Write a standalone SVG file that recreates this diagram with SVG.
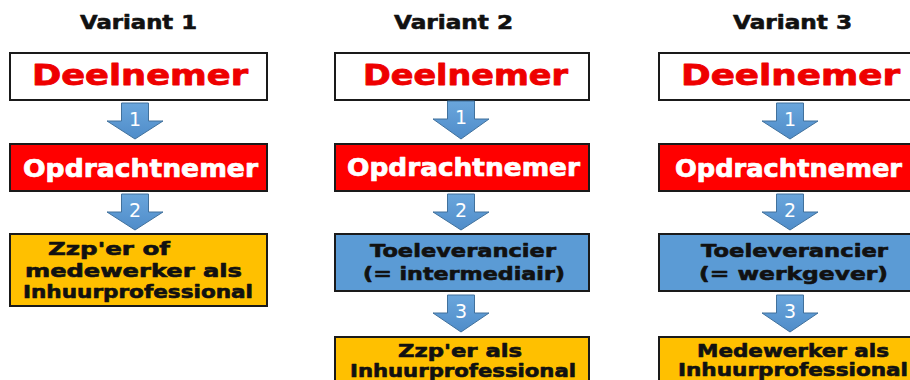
<svg xmlns="http://www.w3.org/2000/svg" width="910" height="380" viewBox="0 0 910 380">
<defs>
<linearGradient id="ag" x1="0" y1="0" x2="0" y2="1">
<stop offset="0" stop-color="#6aa6dc"/>
<stop offset="1" stop-color="#4f8cc9"/>
</linearGradient>
<style>
.t{font-family:"DejaVu Sans","Verdana",sans-serif;font-weight:bold;text-anchor:middle;stroke-linejoin:round}
.title{font-size:19px;fill:#111;stroke:#111;stroke-width:0.6}
.box{stroke:#1a1a1a;stroke-width:2}
.white{fill:#ffffff}
.red{fill:#ff0000}
.yel{fill:#ffc000}
.blue{fill:#5b9bd5}
.dn{font-size:27.5px;fill:#ee0000;stroke:#ee0000;stroke-width:0.8}
.op{font-size:24px;fill:#ffffff;stroke:#ffffff;stroke-width:0.7}
.bt{font-size:17.5px;fill:#111;stroke:#111;stroke-width:0.6}
.arr{fill:url(#ag);stroke:#41719c;stroke-width:1}
.num{font-family:"DejaVu Sans",sans-serif;font-size:19px;fill:#ffffff;text-anchor:middle}
</style>
</defs>
<rect width="910" height="380" fill="#ffffff"/>

<g id="titles">
<text class="t title" x="138.5" y="29" textLength="117" lengthAdjust="spacingAndGlyphs">Variant 1</text>
<text class="t title" x="453.5" y="29" textLength="119" lengthAdjust="spacingAndGlyphs">Variant 2</text>
<text class="t title" x="792.5" y="29" textLength="119" lengthAdjust="spacingAndGlyphs">Variant 3</text>
</g>

<g id="v1-deelnemer">
<rect class="box white" x="10" y="53" width="257" height="47"/>
<text class="t dn" x="140" y="85" textLength="216" lengthAdjust="spacingAndGlyphs">Deelnemer</text>
</g>
<g id="v1-opdrachtnemer">
<rect class="box red" x="10" y="144" width="257" height="47"/>
<text class="t op" x="140.5" y="177" textLength="235" lengthAdjust="spacingAndGlyphs">Opdrachtnemer</text>
</g>
<g id="v1-zzp">
<rect class="box yel" x="10" y="234" width="257" height="72"/>
<text class="t bt" x="109" y="255" textLength="122" lengthAdjust="spacingAndGlyphs">Zzp'er of</text>
<text class="t bt" x="133.5" y="277" textLength="217" lengthAdjust="spacingAndGlyphs">medewerker als</text>
<text class="t bt" x="138" y="298" textLength="230" lengthAdjust="spacingAndGlyphs">Inhuurprofessional</text>
</g>

<g id="v2-deelnemer">
<rect class="box white" x="335" y="53" width="254" height="47"/>
<text class="t dn" x="465.5" y="85" textLength="205" lengthAdjust="spacingAndGlyphs">Deelnemer</text>
</g>
<g id="v2-opdrachtnemer">
<rect class="box red" x="335" y="144" width="254" height="47"/>
<text class="t op" x="463.5" y="176" textLength="233" lengthAdjust="spacingAndGlyphs">Opdrachtnemer</text>
</g>
<g id="v2-toeleverancier">
<rect class="box blue" x="335" y="234" width="254" height="57"/>
<text class="t bt" x="463" y="257" textLength="186" lengthAdjust="spacingAndGlyphs">Toeleverancier</text>
<text class="t bt" x="464" y="280" textLength="202" lengthAdjust="spacingAndGlyphs">(= intermediair)</text>
</g>
<g id="v2-zzp">
<rect class="box yel" x="335" y="337" width="254" height="60"/>
<text class="t bt" x="460" y="357" textLength="124" lengthAdjust="spacingAndGlyphs">Zzp'er als</text>
<text class="t bt" x="463" y="377" textLength="226" lengthAdjust="spacingAndGlyphs">Inhuurprofessional</text>
</g>

<g id="v3-deelnemer">
<rect class="box white" x="659" y="53" width="262" height="47"/>
<text class="t dn" x="790.5" y="85" textLength="219" lengthAdjust="spacingAndGlyphs">Deelnemer</text>
</g>
<g id="v3-opdrachtnemer">
<rect class="box red" x="659" y="144" width="262" height="47"/>
<text class="t op" x="788.5" y="177" textLength="227" lengthAdjust="spacingAndGlyphs">Opdrachtnemer</text>
</g>
<g id="v3-toeleverancier">
<rect class="box blue" x="659" y="234" width="262" height="57"/>
<text class="t bt" x="794.5" y="257" textLength="187" lengthAdjust="spacingAndGlyphs">Toeleverancier</text>
<text class="t bt" x="793.5" y="280" textLength="189" lengthAdjust="spacingAndGlyphs">(= werkgever)</text>
</g>
<g id="v3-medewerker">
<rect class="box yel" x="659" y="337" width="262" height="60"/>
<text class="t bt" x="793" y="357" textLength="192" lengthAdjust="spacingAndGlyphs">Medewerker als</text>
<text class="t bt" x="793" y="376" textLength="230" lengthAdjust="spacingAndGlyphs">Inhuurprofessional</text>
</g>

<g id="connectors">
<path class="arr" d="M121.5,103 H148.5 V121 H163 L135,139 L107,121 H121.5 Z"/>
<text class="num" x="135" y="126">1</text>
<path class="arr" d="M121.5,194 H148.5 V212 H163 L135,230 L107,212 H121.5 Z"/>
<text class="num" x="135" y="217">2</text>

<path class="arr" d="M447.5,101 H474.5 V119 H489 L461,139 L433,119 H447.5 Z"/>
<text class="num" x="461" y="124">1</text>
<path class="arr" d="M447.5,194 H474.5 V212 H489 L461,230 L433,212 H447.5 Z"/>
<text class="num" x="461" y="217">2</text>
<path class="arr" d="M447.5,295 H474.5 V313 H489 L461,332 L433,313 H447.5 Z"/>
<text class="num" x="461" y="318">3</text>

<path class="arr" d="M776.5,103 H803.5 V121 H818 L790,139 L762,121 H776.5 Z"/>
<text class="num" x="790" y="126">1</text>
<path class="arr" d="M776.5,194 H803.5 V212 H818 L790,230 L762,212 H776.5 Z"/>
<text class="num" x="790" y="217">2</text>
<path class="arr" d="M776.5,295 H803.5 V313 H818 L790,332 L762,313 H776.5 Z"/>
<text class="num" x="790" y="318">3</text>
</g>
</svg>
